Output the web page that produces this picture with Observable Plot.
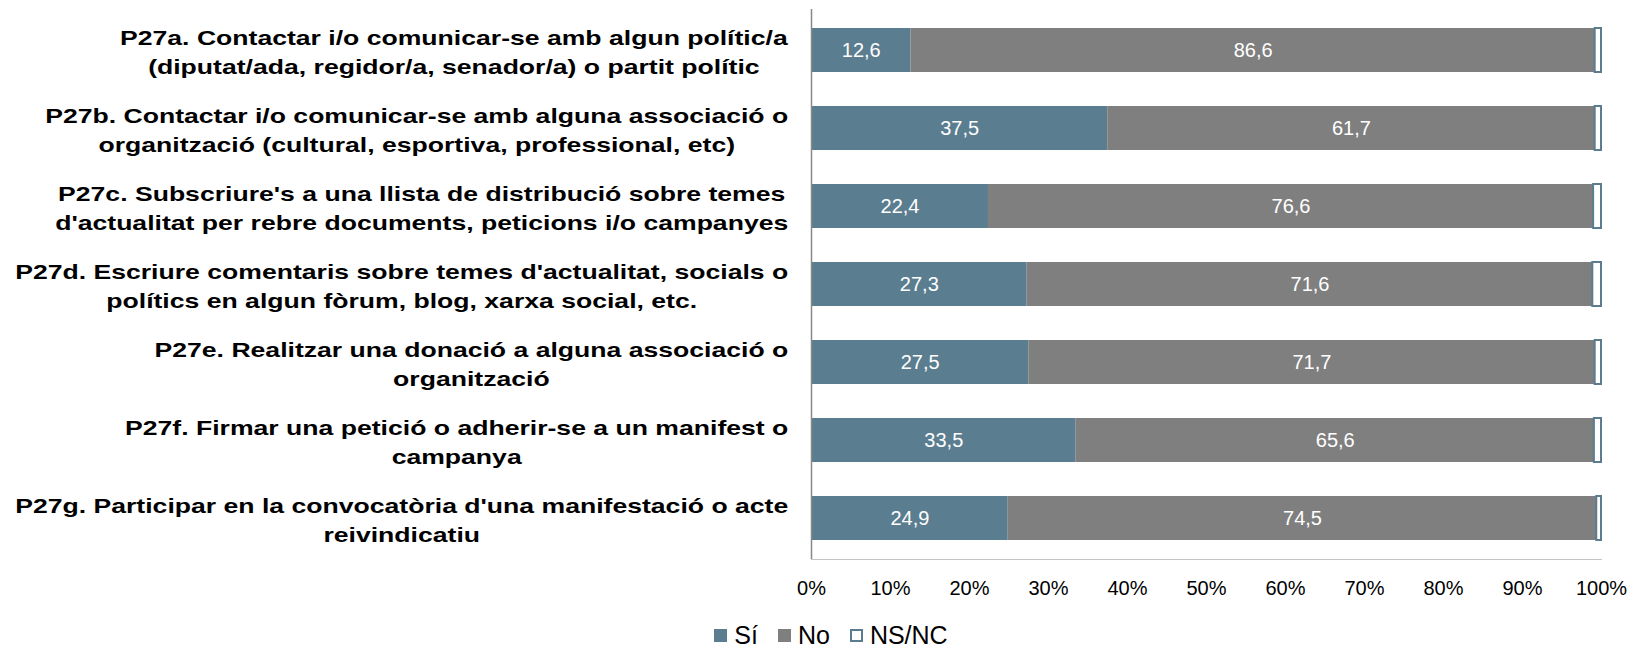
<!DOCTYPE html>
<html>
<head>
<meta charset="utf-8">
<script src="https://cdn.jsdelivr.net/npm/d3@7"></script>
<script src="https://cdn.jsdelivr.net/npm/@observablehq/plot@0.6"></script>
<style>
  html, body { margin: 0; padding: 0; background: #fff; }
  #chart svg { display: block; }
  #legend { display: flex; justify-content: center; align-items: center; height: 47px; padding-left: 30px;
    font-family: "Liberation Sans", Arial, sans-serif; font-size: 25px; color: #000; }
  #legend .item { display: flex; align-items: center; margin: 0 10px; }
  #legend .sw { width: 13px; height: 13px; margin-right: 7px; box-sizing: border-box; }
</style>
</head>
<body>
<div id="chart"></div>
<div id="legend"></div>
<script>
const categories = ["P27a", "P27b", "P27c", "P27d", "P27e", "P27f", "P27g"];
const labels = [
  "P27a. Contactar i/o comunicar-se amb algun polític/a\n(diputat/ada, regidor/a, senador/a) o partit polític",
  "P27b. Contactar i/o comunicar-se amb alguna associació o\norganització (cultural, esportiva, professional, etc)",
  "P27c. Subscriure's a una llista de distribució sobre temes\nd'actualitat per rebre documents, peticions i/o campanyes",
  "P27d. Escriure comentaris sobre temes d'actualitat, socials o\npolítics en algun fòrum, blog, xarxa social, etc.",
  "P27e. Realitzar una donació a alguna associació o\norganització",
  "P27f. Firmar una petició o adherir-se a un manifest o\ncampanya",
  "P27g. Participar en la convocatòria d'una manifestació o acte\nreivindicatiu"
];
const series = ["Sí", "No", "NS/NC"];
const si = [12.6, 37.5, 22.4, 27.3, 27.5, 33.5, 24.9];
const no = [86.6, 61.7, 76.6, 71.6, 71.7, 65.6, 74.5];
const nsnc = [0.8, 0.8, 1.0, 1.1, 0.8, 0.9, 0.6];
const xTicks = [0, 10, 20, 30, 40, 50, 60, 70, 80, 90, 100];
const colors = ["#5b7d90", "#7f7f7f", "#ffffff"];
const nsStroke = "#5b7d90";

const values = [si, no, nsnc];
const rows = [];
categories.forEach((c, i) => {
  series.forEach((s, j) => rows.push({cat: c, serie: s, value: values[j][i]}));
});
const labelOf = Object.fromEntries(categories.map((c, i) => [c, labels[i]]));
const fmt = v => v.toFixed(1).replace(".", ",");

const plot = Plot.plot({
  width: 1632,
  height: 612,
  marginLeft: 811,
  marginRight: 31,
  marginTop: 9,
  marginBottom: 53,
  style: {fontFamily: "'Liberation Sans', Arial, sans-serif", background: "#fff"},
  x: {domain: [0, 100]},
  y: {domain: categories, paddingInner: 0.43, paddingOuter: 0.215},
  color: {domain: series, range: colors},
  marks: [
    Plot.barX(rows, Plot.stackX({
      x: "value", y: "cat", fill: "serie",
      stroke: nsStroke, strokeWidth: 2,
      strokeOpacity: d => d.serie === "NS/NC" ? 1 : 0
    })),
    Plot.text(rows, Plot.stackX({
      x: "value", y: "cat", z: "serie",
      text: d => d.serie === "NS/NC" ? "" : fmt(d.value),
      fill: "white", fontSize: 20
    })),
    Plot.frame({anchor: "bottom", stroke: "#c4c4c4"}),
    Plot.ruleX([0], {stroke: "#888888", strokeWidth: 1.5}),
    Plot.axisX({ticks: xTicks, tickFormat: d => d + "%", tickSize: 0, tickPadding: 21, fontSize: 20, label: null}),
    Plot.axisY({tickSize: 0, tickPadding: 23, tickFormat: d => labelOf[d], fontSize: 20, fontWeight: "bold",
      textAnchor: "middle", lineHeight: 1.45, label: null})
  ]
});
document.getElementById("chart").appendChild(plot);

// horizontally widen y labels and right-align the centered blocks
const sx = 1.33;
plot.querySelectorAll('g[aria-label="y-axis tick label"] text').forEach(t => {
  const w = t.getBBox().width;
  const tr = t.getAttribute("transform") || "";
  t.setAttribute("transform", tr + ` translate(${-w * sx / 2},0) scale(${sx},1)`);
});

const legend = document.getElementById("legend");
series.forEach((s, j) => {
  const item = document.createElement("div");
  item.className = "item";
  const sw = document.createElement("div");
  sw.className = "sw";
  sw.style.background = colors[j];
  if (s === "NS/NC") sw.style.border = `2px solid ${nsStroke}`;
  const tx = document.createElement("span");
  tx.textContent = s;
  item.appendChild(sw);
  item.appendChild(tx);
  legend.appendChild(item);
});
</script>
</body>
</html>
